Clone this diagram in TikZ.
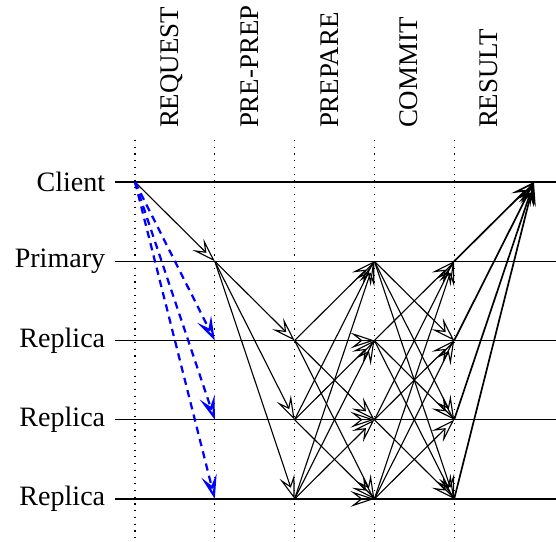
\documentclass[tikz,border=0pt]{standalone}
\usepackage{fontspec}
\setmainfont{Liberation Serif}
\usetikzlibrary{positioning}
\usetikzlibrary{arrows.meta}
\definecolor{blue}{RGB}{0,0,255}

\begin{document}
\begin{tikzpicture}[
    msg/.style={-{Stealth[open,length=8.5pt,width=5.6pt,inset=3.6pt]}, line width=0.4pt},
    req/.style={-{Stealth[open,length=8.5pt,width=5.6pt,inset=3.6pt]}, blue, line width=0.8pt, dash pattern=on 2.6pt off 1.9pt},
    res/.style={-{Stealth[open,length=8.5pt,width=5.6pt,inset=3.6pt]}, line width=0.6pt},
    phase/.style={rotate=90, anchor=base west, inner sep=0pt, font=\fontsize{9.6}{11}\selectfont}
  ]
        \useasboundingbox (-1.692,2.281) rectangle (5.276,-4.511);

        % nodes %
        \foreach \r in {0,...,4}
          \foreach \c in {0,...,5}
            \coordinate (n\r-\c) at (\c,-0.993*\r);

        \node[anchor=east] (client) at (-0.25,0) {Client};
        \node[anchor=east] (primary) at (-0.25,-0.993) {Primary};
        \node[anchor=east] (rep2) at (-0.25,-1.986) {Replica};
        \node[anchor=east] (rep3) at (-0.25,-2.979) {Replica};
        \node[anchor=east] (rep4) at (-0.25,-3.972) {Replica};

        \node[phase] (request) at (0.545,0.67) {REQUEST};
        \node[phase] (preprep) at (1.545,0.67) {PRE-PREP};
        \node[phase] (prepare) at (2.545,0.67) {PREPARE};
        \node[phase] (commit) at (3.545,0.67) {COMMIT};
        \node[phase] (result) at (4.545,0.67) {RESULT};

        % time lines %
        \foreach \c in {0,...,4}
          \draw[dotted] (\c,0.526) -- (\c,-4.511);
        \foreach \n in {client,primary,rep2,rep3,rep4}
          \draw (\n.east) -- (\n.east -| 5.276,0);

        % edges %
        \draw[msg] (n0-0) -- (n1-1);
        \foreach \r in {2,3,4}
          \draw[req] (n0-0) -- (n\r-1);
        \foreach \r in {2,3,4}
          \draw[msg] (n1-1) -- (n\r-2);
        \foreach \s in {2,3,4}
          \foreach \r in {1,...,4}
            \draw[msg] (n\s-2) -- (n\r-3);
        \foreach \s in {1,...,4}
          \foreach \r in {1,...,4}
            {\ifnum\s=\r\else\draw[msg] (n\s-3) -- (n\r-4);\fi}
        \foreach \s in {1,...,4}
          \draw[res] (n\s-4) -- (n0-5);
      \end{tikzpicture}
\end{document}
